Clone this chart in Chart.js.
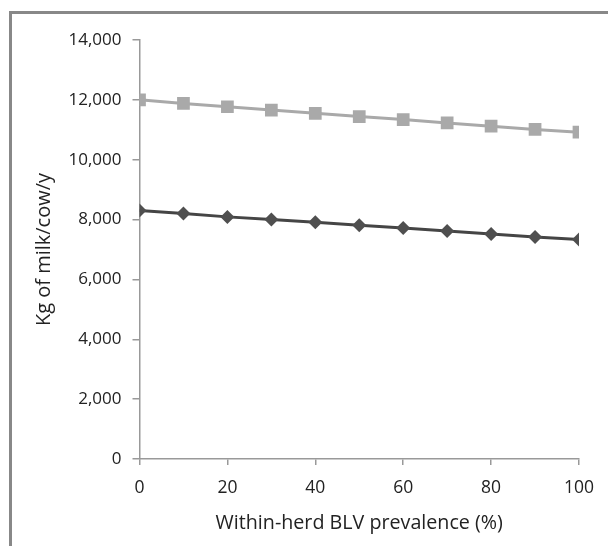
<!DOCTYPE html>
<html>
<head>
<meta charset="utf-8">
<script src="https://cdn.jsdelivr.net/npm/chart.js@4"></script>
<style>
	html, body { margin: 0; padding: 0; background: #fff; }
	#marco { position: relative; width: 608px; height: 546px; overflow: hidden; }
	#borde {
		position: absolute; left: 9px; top: 11px; width: 620px; height: 560px;
		border-left: 3px solid #888; border-top: 3px solid #888;
		pointer-events: none;
	}
	canvas { position: absolute; left: 0; top: 0; }
</style>
</head>
<body>
<div id="marco">
	<canvas id="leche-grafica" width="608" height="546"></canvas>
	<div id="borde"></div>
</div>
<script>
// --- DATOS --- //
const prevalencia = [0, 10, 20, 30, 40, 50, 60, 70, 80, 90, 100];
const serieAlta = [12000, 11880, 11770, 11660, 11550, 11440, 11340, 11230, 11120, 11010, 10920];
const serieBaja = [8300, 8200, 8090, 8000, 7910, 7810, 7720, 7620, 7520, 7420, 7330];
const ticksY = [0, 2000, 4000, 6000, 8000, 10000, 12000, 14000];
const ticksX = [0, 20, 40, 60, 80, 100];

(function () {
	const grafica = document.getElementById('leche-grafica');

	const puntos = (valores) => prevalencia.map((x, i) => ({ x: x, y: valores[i] }));

	const familia = "'Open Sans', sans-serif";

	new Chart(grafica, {
		type: 'line',
		data: {
			datasets: [
				{
					data: puntos(serieAlta),
					borderColor: '#a9a9a9',
					backgroundColor: '#a9a9a9',
					borderWidth: 3,
					pointStyle: 'rect',
					pointRadius: 9,
					pointBorderWidth: 0,
				},
				{
					data: puntos(serieBaja),
					borderColor: '#454545',
					backgroundColor: '#4f4f4f',
					borderWidth: 3,
					pointStyle: 'rectRot',
					pointRadius: 7,
					pointBorderWidth: 0,
				},
			],
		},
		options: {
			responsive: false,
			animation: false,
			layout: {
				padding: { left: 32, top: 40, right: 29, bottom: 11 },
			},
			scales: {
				x: {
					type: 'linear',
					min: 0,
					max: 100,
					afterBuildTicks: (scale) => {
						scale.ticks = ticksX.map((v) => ({ value: v }));
					},
					afterFit: (scale) => {
						scale.height = 76;
					},
					grid: {
						drawOnChartArea: false,
						drawTicks: true,
						tickLength: 6,
						color: '#999',
						lineWidth: 1.5,
					},
					border: { color: '#999', width: 1.5 },
					ticks: { color: '#222', font: { family: familia, size: 17.5 }, padding: 13, maxRotation: 0 },
					title: {
						display: true,
						text: 'Within-herd BLV prevalence (%)',
						color: '#222',
						font: { family: familia, size: 19.7 },
						padding: 0,
					},
				},
				y: {
					min: 0,
					max: 14000,
					afterBuildTicks: (scale) => {
						scale.ticks = ticksY.map((v) => ({ value: v }));
					},
					afterFit: (scale) => {
						scale.width = 107.5;
					},
					grid: {
						drawOnChartArea: false,
						drawTicks: true,
						tickLength: 7,
						color: '#999',
						lineWidth: 1.5,
					},
					border: { color: '#999', width: 1.5 },
					ticks: {
						color: '#222',
						font: { family: familia, size: 17 },
						padding: 11,
						callback: (v) => v.toLocaleString('en-US'),
					},
					title: {
						display: true,
						text: 'Kg of milk/cow/y',
						color: '#222',
						font: { family: familia, size: 20 },
						padding: 0,
					},
				},
			},
			plugins: {
				legend: { display: false },
				tooltip: { enabled: false },
			},
		},
	});
})();
</script>
</body>
</html>
